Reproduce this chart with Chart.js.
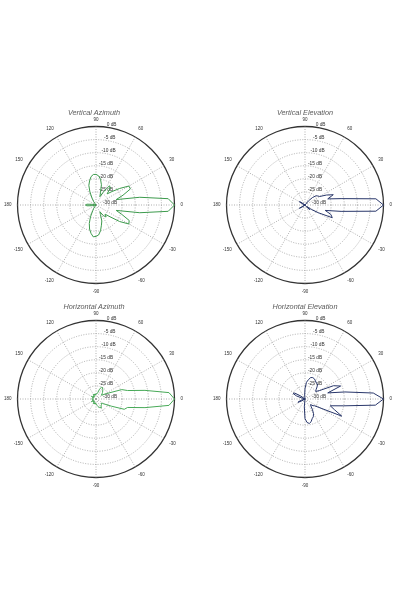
<!DOCTYPE html>
<html lang="en">
<head>
<meta charset="utf-8">
<title>Antenna radiation patterns</title>
<script src="https://cdn.jsdelivr.net/npm/chart.js@4.4.0/dist/chart.umd.min.js"></script>
<style>
  html, body { margin: 0; padding: 0; background: #fff; }
  body { width: 401px; height: 601px; position: relative; overflow: hidden; }
  canvas { position: absolute; }
  .title { position: absolute; width: 200px; text-align: center; line-height: 8px;
           font: italic 7.3px "Liberation Sans", Arial, sans-serif; color: #5a5a5a; }
</style>
</head>
<body>
  <canvas id="va" width="184" height="184" style="left:2px;top:114px"></canvas>
  <canvas id="ve" width="184" height="184" style="left:211px;top:114px"></canvas>
  <canvas id="ha" width="184" height="184" style="left:2px;top:308px"></canvas>
  <canvas id="he" width="184" height="184" style="left:211px;top:308px"></canvas>
  <div class="title" style="left:-6px;top:108px">Vertical Azimuth</div>
  <div class="title" style="left:205px;top:108px">Vertical Elevation</div>
  <div class="title" style="left:-6px;top:302px">Horizontal Azimuth</div>
  <div class="title" style="left:205px;top:302px">Horizontal Elevation</div>

<script>
// angle (deg), counter-clockwise from 0 (right)
const angles = [0, 5, 10, 15, 20, 25, 30, 35, 40, 45, 50, 55, 60, 65, 70, 75, 80, 85, 90,
  95, 100, 105, 110, 115, 120, 125, 130, 135, 140, 145, 150, 155, 160, 165, 170, 175, 180,
  -175, -170, -165, -160, -155, -150, -145, -140, -135, -130, -125, -120, -115, -110, -105,
  -100, -95, -90, -85, -80, -75, -70, -65, -60, -55, -50, -45, -40, -35, -30, -25, -20, -15, -10, -5]

// gain in dB, same order as angles
const vertAzimuth = [0, -2.3, -13, -22, -19, -15.5, -15.5, -19, -22, -24, -21.5, -21, -24, -26.5, -25, -22, -20, -18.8, -18.3,
  -18.3, -19, -20.5, -22, -24.5, -27, -28.5, -30, -30, -30, -30, -30, -30, -30, -30, -28.5, -26.5, -26,
  -26.5, -28.5, -30, -30, -30, -30, -30, -30, -30, -30, -28.5, -27.5, -25, -22.5, -20.5,
  -19, -17.8, -18, -18.5, -20, -22, -23.5, -26, -27, -25, -24, -25, -23, -19, -15.5, -16, -19.5, -22, -13, -2.3]

const vertElevation = [0, -2.8, -16, -21, -18.5, -21, -23.5, -24, -24.5, -26, -28, -30, -30, -30, -30, -30, -30, -30, -30,
  -30, -30, -30, -30, -30, -30, -30, -30, -30, -30, -28, -27.5, -28.5, -30, -30, -30, -30, -29.5,
  -30, -30, -30, -30, -30, -27.5, -28.5, -30, -30, -30, -30, -30, -30, -30, -30,
  -30, -30, -30, -30, -30, -30, -30, -30, -30, -30, -29, -27.5, -29, -27, -24, -18.5, -19.5, -22, -16, -2.8]

const horAzimuth = [0, -2, -11, -17.5, -19.5, -24.5, -26.5, -27.5, -27, -26.5, -26, -25.5, -25, -25, -26, -27.5, -28, -28, -28,
  -28.5, -28, -28.5, -28, -28.5, -28, -28.5, -29, -28.5, -29, -28.5, -28, -28.5, -29, -28.5, -28.5, -28.5, -28.5,
  -28.5, -28.5, -29, -28.5, -28.5, -28, -28.5, -29, -28.5, -29, -28.5, -28, -28.5, -28, -28.5,
  -28, -28.5, -28, -28, -27.5, -27, -26.5, -26.5, -26, -26.5, -27, -27, -27.5, -27, -26, -23.5, -18.5, -17.5, -11, -2]

const horElevation = [0, -3.8, -14.5, -21, -15.5, -18, -23.5, -25, -24.5, -23.5, -22.5, -22.5, -22, -21.5, -21.3, -21.5, -22.5, -23.6, -26,
  -28.5, -30, -30, -30, -30, -30, -30, -30, -30, -30, -28, -25.5, -25, -26.5, -29, -30, -30, -30,
  -30, -30, -29, -28, -27, -28.5, -30, -30, -30, -30, -30, -30, -30, -30, -30,
  -30, -27, -22.5, -21, -20.5, -21, -22, -22.5, -23.5, -25, -26.5, -27, -26, -25.5, -23, -14.5, -18, -20, -15, -3]

const ringLabels = ['-30 dB', '-25 dB', '-20 dB', '-15 dB', '-10 dB', '-5 dB', '0 dB']

// radar goes clockwise, the plots go counter-clockwise
const cw = a => [a[0]].concat(a.slice(1).reverse())

const dbLabels = {
  id: 'dbLabels',
  beforeDatasetsDraw(chart) {
    const r = chart.scales.r
    const ctx = chart.ctx
    ctx.save()
    ctx.font = '4.8px "Liberation Sans", Arial, sans-serif'
    ctx.fillStyle = '#333'
    ctx.textBaseline = 'middle'
    r.ticks.forEach((t, i) => {
      const d = r.getDistanceFromCenterForValue(t.value)
      const x = r.xCenter + (i === 0 ? 7 : 3 + Math.max(0, d - 40) * 0.2)
      ctx.fillText(ringLabels[i], x, r.yCenter - d - 2)
    })
    ctx.restore()
  }
}

function polarChart(id, values, color) {
  return new Chart(document.getElementById(id), {
    type: 'radar',
    data: {
      labels: cw(angles),
      datasets: [{
        data: cw(values),
        borderColor: color,
        borderWidth: 1,
        fill: false,
        pointRadius: 0,
        tension: 0
      }]
    },
    options: {
      responsive: false,
      animation: false,
      plugins: { legend: { display: false }, tooltip: { enabled: false } },
      scales: {
        r: {
          min: -30,
          max: 0,
          startAngle: 90,
          ticks: { display: false, stepSize: 5 },
          grid: {
            circular: true,
            color: c => c.tick.value === 0 ? '#333' : '#9a9a9a',
            lineWidth: c => c.tick.value === 0 ? 1.3 : 0.8,
            borderDash: c => c.tick.value === 0 ? [] : [1, 1.5]
          },
          border: { dash: c => c.tick.value === 0 ? [] : [1, 1.5] },
          angleLines: {
            color: '#9a9a9a',
            lineWidth: c => c.index % 6 === 0 ? 0.8 : 0,
            borderDash: [1, 1.5]
          },
          pointLabels: {
            // 90 sits a little closer to the ring than the others
            padding: c => c.index === 54 ? 4.5 : 6,
            color: '#333',
            font: { size: 4.5, family: '"Liberation Sans", Arial, sans-serif' },
            callback: (l, i) => i % 6 === 0 ? String(l) : ''
          }
        }
      }
    },
    plugins: [dbLabels]
  })
}

polarChart('va', vertAzimuth, '#3c9a4c')
polarChart('ve', vertElevation, '#28366a')
polarChart('ha', horAzimuth, '#47a957')
polarChart('he', horElevation, '#28366a')
</script>
</body>
</html>
